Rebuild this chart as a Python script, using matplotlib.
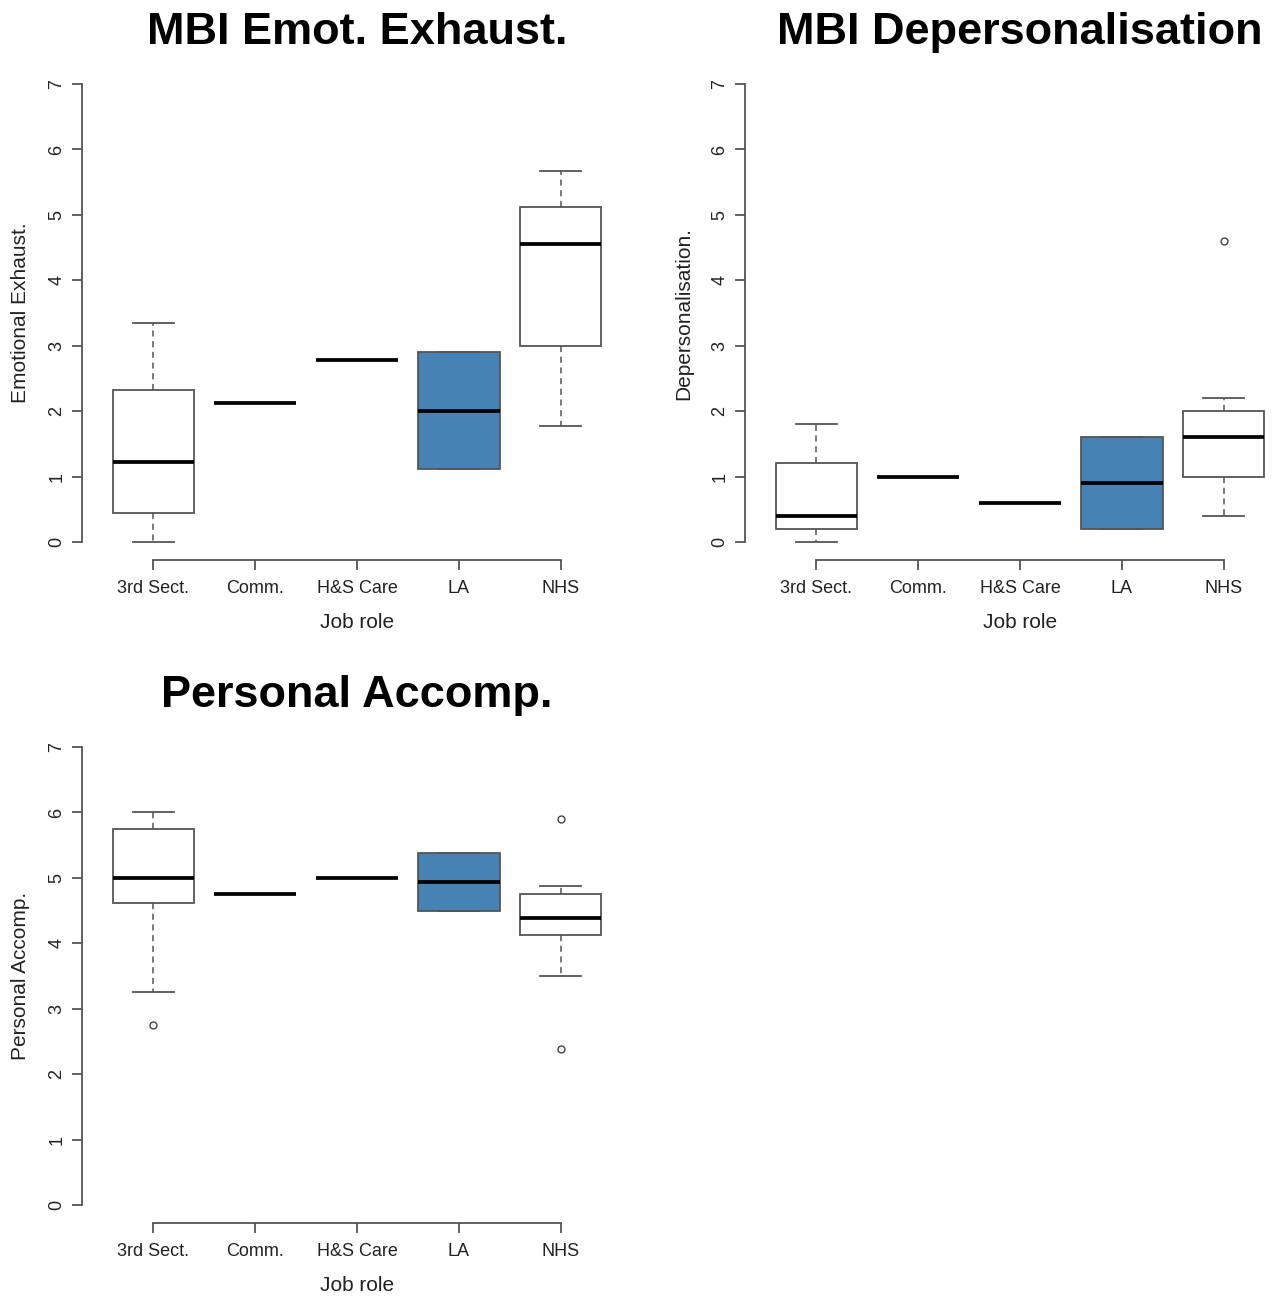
import numpy as np
import matplotlib.pyplot as plt

plt.rcParams['font.family'] = ['Liberation Sans', 'DejaVu Sans']

roles = ['3rd Sect.', 'Comm.', 'H&S Care', 'LA', 'NHS']
colors = ['white', 'white', 'white', '#4682B4', 'white']

# five-number summaries per role: (whislo, q1, med, q3, whishi)
ee_stats = [(0.0, 0.45, 1.22, 2.33, 3.35),
            (2.12, 2.12, 2.12, 2.12, 2.12),
            (2.78, 2.78, 2.78, 2.78, 2.78),
            (1.12, 1.12, 2.0, 2.9, 2.9),
            (1.78, 3.0, 4.55, 5.12, 5.67)]
ee_fliers = [[], [], [], [], []]

dp_stats = [(0.0, 0.2, 0.4, 1.2, 1.8),
            (1.0, 1.0, 1.0, 1.0, 1.0),
            (0.6, 0.6, 0.6, 0.6, 0.6),
            (0.2, 0.2, 0.9, 1.6, 1.6),
            (0.4, 1.0, 1.6, 2.0, 2.2)]
dp_fliers = [[], [], [], [], [4.6]]

pa_stats = [(3.25, 4.62, 5.0, 5.75, 6.0),
            (4.75, 4.75, 4.75, 4.75, 4.75),
            (5.0, 5.0, 5.0, 5.0, 5.0),
            (4.5, 4.5, 4.94, 5.38, 5.38),
            (3.5, 4.12, 4.38, 4.75, 4.87)]
pa_fliers = [[2.75], [], [], [], [5.9, 2.38]]

W, H = 1277, 1298
fig = plt.figure(figsize=(W / 100, H / 100), dpi=100)


def panel(left_px, top_px, stats, fliers, title, ylabel):
    x0 = left_px / W
    w = 550 / W
    h = 494.6 / H
    y0 = 1 - (top_px + 494.6) / H
    ax = fig.add_axes([x0, y0, w, h])
    bstats = []
    for (lo, q1, med, q3, hi), fl in zip(stats, fliers):
        bstats.append(dict(whislo=lo, q1=q1, med=med, q3=q3, whishi=hi,
                           fliers=fl))
    bp = ax.bxp(bstats, positions=range(1, 6), widths=0.8, patch_artist=True,
                boxprops=dict(edgecolor='#555555', linewidth=1.3),
                medianprops=dict(color='black', linewidth=2.7),
                whiskerprops=dict(color='#555555', linewidth=1.1,
                                  linestyle=(0, (4, 3))),
                capprops=dict(color='#555555', linewidth=1.3),
                flierprops=dict(marker='o', markersize=5,
                                markerfacecolor='none',
                                markeredgecolor='#444444',
                                markeredgewidth=1.0))
    for patch, c in zip(bp['boxes'], colors):
        patch.set_facecolor(c)
    ax.set_xlim(0.3, 5.7)
    ax.set_ylim(-0.28, 7.28)
    for s in ['top', 'right']:
        ax.spines[s].set_visible(False)
    ax.spines['left'].set_bounds(0, 7)
    ax.spines['bottom'].set_bounds(1, 5)
    for s in ['left', 'bottom']:
        ax.spines[s].set_color('#555555')
        ax.spines[s].set_linewidth(1.3)
    ax.set_xticks(range(1, 6))
    ax.set_xticklabels(roles, fontsize=13)
    ax.set_yticks(range(0, 8))
    ax.set_yticklabels([str(i) for i in range(8)], fontsize=13,
                       rotation=90, va='center')
    ax.tick_params(axis='both', colors='#555555', labelcolor='#222222',
                   length=7, width=1.3)
    ax.tick_params(axis='x', pad=7)
    ax.tick_params(axis='y', pad=5)
    ax.set_xlabel('Job role', fontsize=15, labelpad=12, color='#222222')
    ax.set_ylabel(ylabel, fontsize=15, labelpad=13, color='#222222')
    ax.set_title(title, fontsize=32.5, fontweight='bold', pad=15.5)
    return ax


panel(82, 65.7, ee_stats, ee_fliers, 'MBI Emot. Exhaust.', 'Emotional Exhaust.')
panel(745, 65.7, dp_stats, dp_fliers, 'MBI Depersonalisation', 'Depersonalisation.')
panel(82, 728.7, pa_stats, pa_fliers, 'Personal Accomp.', 'Personal Accomp.')

fig.savefig('out.png', dpi=100)
